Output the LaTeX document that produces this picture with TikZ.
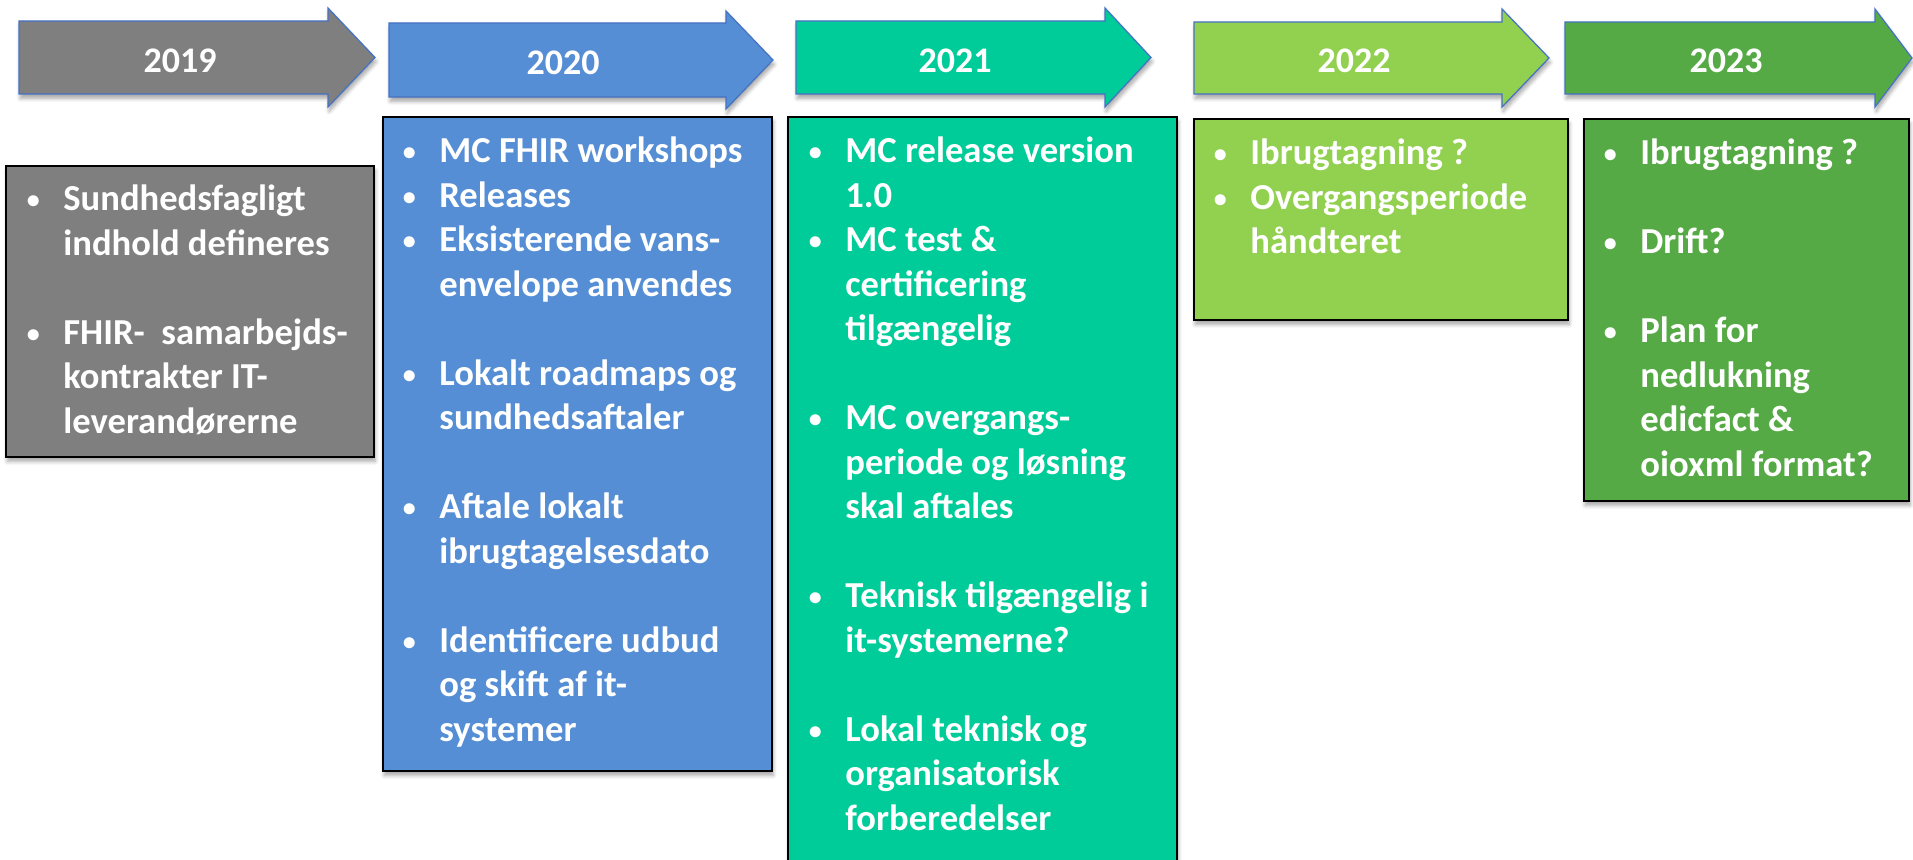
\documentclass[tikz,border=0pt]{standalone}
\usepackage{fontspec}
\setmainfont{Carlito}
\usetikzlibrary{shadows.blur}

\definecolor{arrowline}{RGB}{68,114,196}
\definecolor{fillnineteen}{RGB}{127,127,127}
\definecolor{filltwenty}{RGB}{85,142,213}
\definecolor{filltwentyone}{RGB}{0,204,153}
\definecolor{filltwentytwo}{RGB}{146,208,80}
\definecolor{filltwentythree}{RGB}{86,170,69}

\newcommand{\bul}{\llap{\makebox[30pt][c]{\raisebox{1pt}{\fontsize{13}{13}\selectfont\textbullet}}}}

\tikzset{
  yeararrow/.style={draw=arrowline, line width=0.6pt, line join=miter,
    blur shadow={shadow xshift=0.6pt, shadow yshift=-2.2pt, shadow opacity=35, shadow blur steps=6}},
  yearbox/.style={draw=black, line width=1.1pt,
    blur shadow={shadow xshift=0.6pt, shadow yshift=-2.2pt, shadow opacity=35, shadow blur steps=6}},
  yearlabel/.style={text=white, inner sep=0pt, anchor=base,
    font=\bfseries\fontsize{18}{22}\selectfont},
  boxtext/.style={text=white, inner sep=0pt, anchor=base west,
    font=\bfseries\fontsize{18.3}{22.25}\selectfont},
}

\begin{document}
\begin{tikzpicture}[x=0.5pt, y=-0.5pt]
  \useasboundingbox (0,0) rectangle (1913,860);%
  \clip (0,0) rectangle (1913,860);%

  % Drawing arrow 2019
  \draw [yeararrow, fill=fillnineteen] (19,21) -- (328,21) -- (328,8) -- (375,57.5) -- (328,107) -- (328,94) -- (19,94) -- cycle;%
  \node [yearlabel] (y19) at (180,72.5) {2019};%

  % Drawing arrow 2020
  \draw [yeararrow, fill=filltwenty] (389,23) -- (726,23) -- (726,11) -- (773,60) -- (726,109) -- (726,97) -- (389,97) -- cycle;%
  \node [yearlabel] (y20) at (563,74.5) {2020};%

  % Drawing arrow 2021
  \draw [yeararrow, fill=filltwentyone] (796,21) -- (1105,21) -- (1105,8) -- (1151,57.5) -- (1105,107) -- (1105,94) -- (796,94) -- cycle;%
  \node [yearlabel] (y21) at (955,72.5) {2021};%

  % Drawing arrow 2022
  \draw [yeararrow, fill=filltwentytwo] (1194,22) -- (1502,22) -- (1502,9) -- (1549,58) -- (1502,107) -- (1502,94) -- (1194,94) -- cycle;%
  \node [yearlabel] (y22) at (1354,73) {2022};%

  % Drawing arrow 2023
  \draw [yeararrow, fill=filltwentythree] (1565,22) -- (1875,22) -- (1875,9) -- (1912,58) -- (1875,107) -- (1875,94) -- (1565,94) -- cycle;%
  \node [yearlabel] (y23) at (1726,73) {2023};%

  % Box 2019
  \draw [yearbox, fill=fillnineteen] (6,166) rectangle (374,457);%
  \node [boxtext] (t19) at (63,211) {\begin{tabular}[t]{@{}l@{}}
    \bul Sundhedsfagligt\\ indhold defineres\\ \\
    \bul FHIR-\ \ samarbejds-\\ kontrakter IT-\\ leverandørerne
  \end{tabular}};%

  % Box 2020
  \draw [yearbox, fill=filltwenty] (383,117) rectangle (772,771);%
  \node [boxtext] (t20) at (439,163) {\begin{tabular}[t]{@{}l@{}}
    \bul MC FHIR workshops\\
    \bul Releases\\
    \bul Eksisterende vans-\\ envelope anvendes\\ \\
    \bul Lokalt roadmaps og\\ sundhedsaftaler\\ \\
    \bul Aftale lokalt\\ ibrugtagelsesdato\\ \\
    \bul Identificere udbud\\ og skift af it-\\ systemer
  \end{tabular}};%

  % Box 2021
  \draw [yearbox, fill=filltwentyone] (788,117) rectangle (1177,880);%
  \node [boxtext] (t21) at (845,163) {\begin{tabular}[t]{@{}l@{}}
    \bul MC release version\\ 1.0\\
    \bul MC test \&\\ certificering\\ tilgængelig\\ \\
    \bul MC overgangs-\\ periode og løsning\\ skal aftales\\ \\
    \bul Teknisk tilgængelig i\\ it-systemerne?\\ \\
    \bul Lokal teknisk og\\ organisatorisk\\ forberedelser
  \end{tabular}};%

  % Box 2022
  \draw [yearbox, fill=filltwentytwo] (1194,119) rectangle (1568,320);%
  \node [boxtext] (t22) at (1250,165) {\begin{tabular}[t]{@{}l@{}}
    \bul Ibrugtagning ?\\
    \bul Overgangsperiode\\ håndteret
  \end{tabular}};%

  % Box 2023
  \draw [yearbox, fill=filltwentythree] (1584,119) rectangle (1909,501);%
  \node [boxtext] (t23) at (1640,165) {\begin{tabular}[t]{@{}l@{}}
    \bul Ibrugtagning ?\\ \\
    \bul Drift?\\ \\
    \bul Plan for\\ nedlukning\\ edicfact \&\\ oioxml format?
  \end{tabular}};%
\end{tikzpicture}
\end{document}
